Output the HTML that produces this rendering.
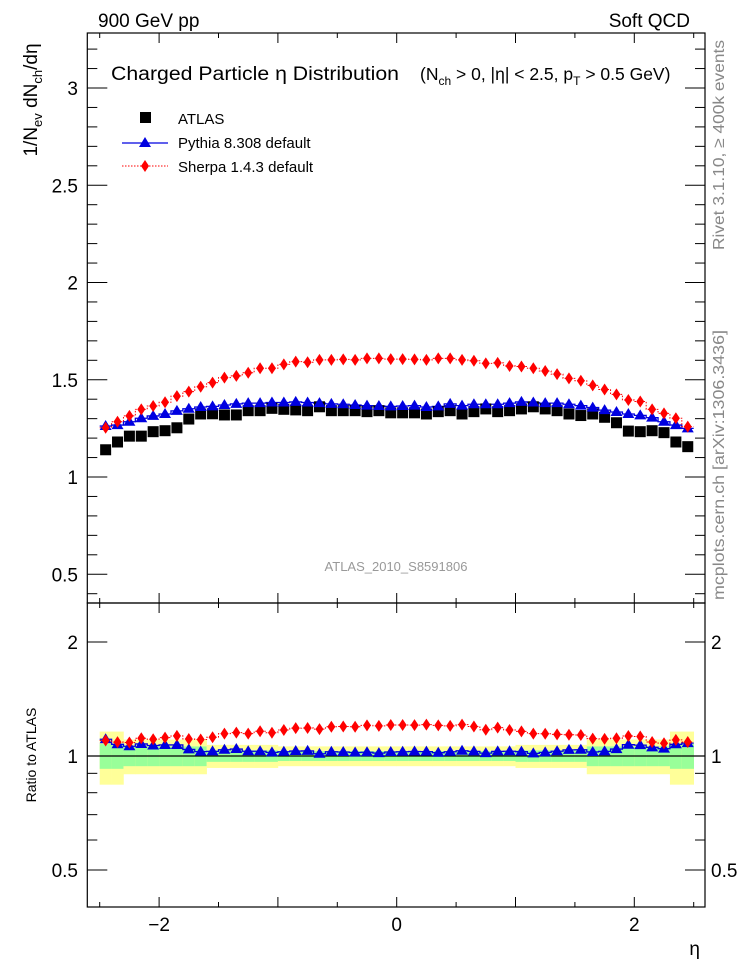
<!DOCTYPE html>
<html><head><meta charset="utf-8"><style>
html,body{margin:0;padding:0;background:#fff;}
svg{display:block;font-family:"Liberation Sans","DejaVu Sans",sans-serif;}
</style></head><body>
<svg id="chart" width="746" height="972" viewBox="0 0 746 972" xmlns="http://www.w3.org/2000/svg">
<g id="bands"></g>
<g id="marks"></g>
<g id="axes"></g>
<text x="98" y="27" font-size="19">900 GeV pp</text>
<text x="690" y="27" font-size="19" text-anchor="end">Soft QCD</text>
<text x="111" y="80" font-size="19" textLength="288" lengthAdjust="spacingAndGlyphs">Charged Particle  η Distribution</text>
<text x="420" y="80" font-size="17.5">(N<tspan font-size="12" dy="5">ch</tspan><tspan dy="-5"> &gt; 0, |η| &lt; 2.5, p</tspan><tspan font-size="12" dy="5">T</tspan><tspan dy="-5"> &gt; 0.5 GeV)</tspan></text>
<g>
  <rect x="140" y="112" width="11" height="11" fill="#000"/>
  <text x="178" y="124" font-size="15">ATLAS</text>
  <line x1="122" y1="143" x2="168" y2="143" stroke="#0000e0" stroke-width="1.3"/>
  <polygon points="145,137 151,147 139,147" fill="#0000e0"/>
  <text x="178" y="148" font-size="15">Pythia 8.308 default</text>
  <line x1="122" y1="166" x2="168" y2="166" stroke="#f00" stroke-width="1" stroke-dasharray="1.5,1.5"/>
  <polygon points="145,160 149,166 145,172 141,166" fill="#f00"/>
  <text x="178" y="172" font-size="15">Sherpa 1.4.3 default</text>
</g>
<text x="396" y="571" font-size="13" fill="#999" text-anchor="middle">ATLAS_2010_S8591806</text>
<text transform="translate(37,100) rotate(-90)" font-size="19" text-anchor="middle">1/N<tspan font-size="13" dy="5">ev</tspan><tspan dy="-5"> dN</tspan><tspan font-size="13" dy="5">ch</tspan><tspan dy="-5">/dη</tspan></text>
<text transform="translate(36,755) rotate(-90)" font-size="14" text-anchor="middle">Ratio to ATLAS</text>
<text x="700" y="955" font-size="19" text-anchor="end">η</text>
<text transform="translate(724,250) rotate(-90)" font-size="16" fill="#888" textLength="210" lengthAdjust="spacingAndGlyphs">Rivet 3.1.10, ≥ 400k events</text>
<text transform="translate(724,600) rotate(-90)" font-size="16" fill="#888" textLength="270" lengthAdjust="spacingAndGlyphs">mcplots.cern.ch [arXiv:1306.3436]</text>
</svg>
<script>
const etaCenters = [-2.45,-2.35,-2.25,-2.15,-2.05,-1.95,-1.85,-1.75,-1.65,-1.55,-1.45,-1.35,-1.25,-1.15,-1.05,-0.95,-0.85,-0.75,-0.65,-0.55,-0.45,-0.35,-0.25,-0.15,-0.05,0.05,0.15,0.25,0.35,0.45,0.55,0.65,0.75,0.85,0.95,1.05,1.15,1.25,1.35,1.45,1.55,1.65,1.75,1.85,1.95,2.05,2.15,2.25,2.35,2.45];
const atlasValues = [1.14,1.18,1.21,1.21,1.233,1.238,1.253,1.298,1.324,1.325,1.319,1.319,1.341,1.341,1.353,1.348,1.345,1.341,1.361,1.341,1.341,1.341,1.336,1.341,1.33,1.33,1.33,1.324,1.336,1.341,1.324,1.336,1.35,1.336,1.341,1.35,1.361,1.35,1.341,1.324,1.316,1.324,1.307,1.279,1.236,1.233,1.238,1.228,1.18,1.156];
const pythiaValues = [1.262,1.267,1.284,1.302,1.314,1.324,1.34,1.351,1.36,1.363,1.37,1.376,1.38,1.38,1.383,1.383,1.386,1.383,1.38,1.376,1.374,1.37,1.367,1.365,1.363,1.365,1.367,1.36,1.363,1.376,1.367,1.374,1.374,1.374,1.38,1.386,1.383,1.38,1.38,1.374,1.367,1.357,1.344,1.334,1.324,1.317,1.305,1.284,1.267,1.25];
const sherpaValues = [1.253,1.284,1.314,1.348,1.365,1.384,1.416,1.439,1.464,1.485,1.511,1.52,1.536,1.559,1.559,1.579,1.593,1.59,1.602,1.602,1.605,1.602,1.61,1.61,1.606,1.606,1.605,1.602,1.61,1.61,1.602,1.598,1.584,1.587,1.571,1.568,1.559,1.545,1.529,1.507,1.495,1.471,1.45,1.425,1.396,1.388,1.348,1.327,1.302,1.259];
const bandOuter = [0.16,0.16,0.105,0.105,0.105,0.105,0.105,0.105,0.105,0.07,0.07,0.07,0.07,0.07,0.07,0.06,0.06,0.06,0.06,0.06,0.06,0.06,0.06,0.06,0.06,0.06,0.06,0.06,0.06,0.06,0.06,0.06,0.06,0.06,0.06,0.07,0.07,0.07,0.07,0.07,0.07,0.105,0.105,0.105,0.105,0.105,0.105,0.105,0.16,0.16];
const bandInner = [0.075,0.075,0.06,0.06,0.06,0.06,0.06,0.06,0.06,0.035,0.035,0.035,0.035,0.035,0.035,0.03,0.03,0.03,0.03,0.03,0.03,0.03,0.03,0.03,0.03,0.03,0.03,0.03,0.03,0.03,0.03,0.03,0.03,0.03,0.03,0.035,0.035,0.035,0.035,0.035,0.035,0.06,0.06,0.06,0.06,0.06,0.06,0.06,0.075,0.075];
const mainTicks = [0.5,1,1.5,2,2.5,3];
const ratioTicks = [0.5,1,2];
const xTicks = [-2,0,2];

const NS="http://www.w3.org/2000/svg";
const L=87.3,R=705,T=33,MB=603,B=907;
const binW=0.1;
function X(e){return 396.7+118.8*e;}
function Y(v){return 477-194.5*(v-1);}
function YR(r){return 756-114*Math.log2(r);}
function mk(tag,attrs,parent){const el=document.createElementNS(NS,tag);for(const k in attrs)el.setAttribute(k,attrs[k]);parent.appendChild(el);return el;}
const bands=document.getElementById('bands'),marks=document.getElementById('marks'),axes=document.getElementById('axes');

etaCenters.forEach((e,i)=>{
  const x0=X(e-binW/2),x1=X(e+binW/2);
  const o=mk('rect',{x:x0,y:YR(1+bandOuter[i]),width:x1-x0+0.3,height:YR(1-bandOuter[i])-YR(1+bandOuter[i]),fill:'#ffff99'},bands);
  
  
  const n=mk('rect',{x:x0,y:YR(1+bandInner[i]),width:x1-x0+0.3,height:YR(1-bandInner[i])-YR(1+bandInner[i]),fill:'#99ff99'},bands);
  
  
});
mk('line',{x1:L,x2:R,y1:YR(1),y2:YR(1),stroke:'#000','stroke-width':1.3},bands);

function stepPath(vals,yf){
  let d='';
  etaCenters.forEach((e,i)=>{const y=yf(vals[i],i);d+=(i?'L':'M')+X(e-binW/2)+','+y+'L'+X(e+binW/2)+','+y;});
  return d;
}
const pl=mk('path',{d:stepPath(pythiaValues,v=>Y(v)),fill:'none',stroke:'#0000e0','stroke-width':1.3},marks);


const sl=mk('path',{d:stepPath(sherpaValues,v=>Y(v)),fill:'none',stroke:'#f00','stroke-width':1,'stroke-dasharray':'1.5,1.5'},marks);


const rpl=mk('path',{d:stepPath(pythiaValues,(v,i)=>YR(v/atlasValues[i])),fill:'none',stroke:'#0000e0','stroke-width':1.3},marks);


const rsl=mk('path',{d:stepPath(sherpaValues,(v,i)=>YR(v/atlasValues[i])),fill:'none',stroke:'#f00','stroke-width':1,'stroke-dasharray':'1.5,1.5'},marks);



function tri(x,y,parent,name){const p=mk('polygon',{points:`${x},${y-6} ${x+6},${y+4} ${x-6},${y+4}`,fill:'#0000e0'},parent);}
function dia(x,y,parent,name){const p=mk('polygon',{points:`${x},${y-6} ${x+4},${y} ${x},${y+6} ${x-4},${y}`,fill:'#f00'},parent);}
etaCenters.forEach((e,i)=>{
  const x=X(e);
  const s=mk('rect',{x:x-5.5,y:Y(atlasValues[i])-5.5,width:11,height:11,fill:'#000'},marks);
  
  
  tri(x,Y(pythiaValues[i]),marks,'pythia-point');
  dia(x,Y(sherpaValues[i]),marks,'sherpa-point');
  tri(x,YR(pythiaValues[i]/atlasValues[i]),marks,'pythia-ratio-point');
  dia(x,YR(sherpaValues[i]/atlasValues[i]),marks,'sherpa-ratio-point');
});

const f1=mk('rect',{x:L,y:T,width:R-L,height:MB-T,fill:'none',stroke:'#000','stroke-width':1.2},axes);


const f2=mk('rect',{x:L,y:MB,width:R-L,height:B-MB,fill:'none',stroke:'#000','stroke-width':1.2},axes);


function ln(x1,y1,x2,y2){mk('line',{x1,y1,x2,y2,stroke:'#000','stroke-width':1},axes);}
for(let v=0.4;v<=3.25;v+=0.1){const vv=Math.round(v*10)/10;const y=Y(vv);const maj=Math.abs(vv*2-Math.round(vv*2))<1e-6;const len=maj?20:10;ln(L,y,L+len,y);ln(R,y,R-len,y);}
mainTicks.forEach(v=>{const t=mk('text',{x:78,y:Y(v)+7,'font-size':19,'text-anchor':'end'},axes);t.textContent=String(v);});
[0.5,0.6,0.7,0.8,0.9,1,2].forEach(r=>{const y=YR(r);const maj=ratioTicks.includes(r);const len=maj?20:10;ln(L,y,L+len,y);ln(R,y,R-len,y);});
ratioTicks.forEach(r=>{const t=mk('text',{x:78,y:YR(r)+7,'font-size':19,'text-anchor':'end'},axes);t.textContent=String(r);
const t2=mk('text',{x:711,y:YR(r)+7,'font-size':19},axes);t2.textContent=String(r);});
for(let k=-5;k<=5;k++){const e=k*0.5;const x=X(e);const maj=k%2===0;const len=maj?10:5;
  ln(x,B,x,B-len);ln(x,T,x,T+len);ln(x,MB,x,MB-len);ln(x,MB,x,MB+len);}
xTicks.forEach(e=>{const t=mk('text',{x:X(e),y:931,'font-size':19,'text-anchor':'middle'},axes);t.textContent=e<0?'\u2212'+Math.abs(e):String(e);});
</script>
</body></html>
